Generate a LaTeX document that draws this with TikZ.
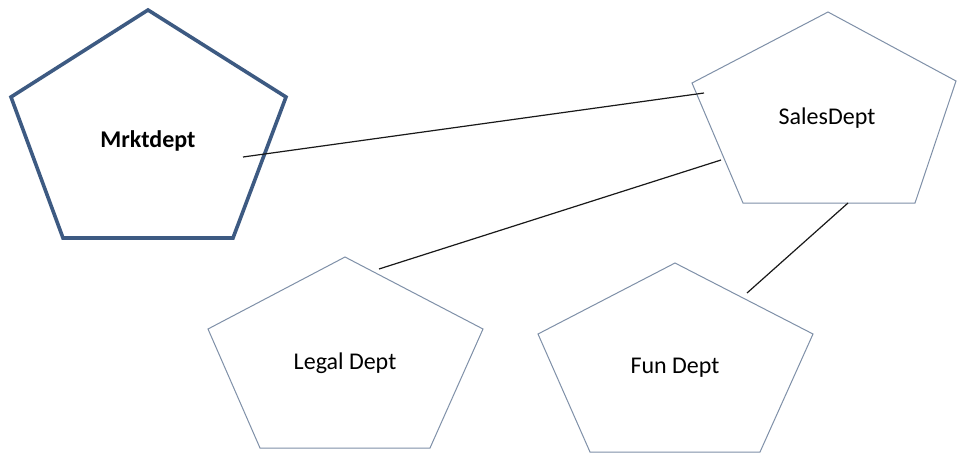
\documentclass[tikz,border=0pt]{standalone}
\usepackage{fontspec}
\setmainfont{Carlito}
\definecolor{thickblue}{HTML}{3D5A82}
\definecolor{thinblue}{HTML}{7F90A8}
\tikzset{
  bigpent/.style={draw=thickblue, line width=3.6pt, line join=miter, fill=white},
  pent/.style={draw=thinblue, line width=1pt, line join=miter, fill=white},
  lbl/.style={font=\fontsize{24}{28}\selectfont, text=black, inner sep=0pt},
  conn/.style={draw=black!90, line width=1.2pt}
}
\begin{document}
\begin{tikzpicture}[x=1pt,y=-1pt]
\useasboundingbox (0,0) rectangle (957,455);
\fill[white] (0,0) rectangle (957,455);
% Mrktdept
\draw[bigpent] (148,10) -- (286,97) -- (233,238) -- (63,238) -- (11,97) -- cycle;
\node[lbl, font=\fontsize{24}{28}\selectfont\bfseries] (mrkt) at (148,141) {Mrktdept};
% SalesDept
\draw[pent] (828,12) -- (956,81) -- (915,203) -- (743,203) -- (692,83) -- cycle;
\node[lbl] (sales) at (827,118) {SalesDept};
% Legal Dept
\draw[pent] (345,257) -- (483,329) -- (430,448) -- (260,448) -- (208,329) -- cycle;
\node[lbl] (legal) at (345,363) {Legal Dept};
% Fun Dept
\draw[pent] (675,263) -- (813,334) -- (760,452) -- (590,452) -- (538,334) -- cycle;
\node[lbl] (fun) at (675,368) {Fun Dept};
% connector ends
\coordinate (m1) at (243,157);
\coordinate (s1) at (704,93);
\coordinate (s2) at (721,160);
\coordinate (l1) at (379,269);
\coordinate (s3) at (848,203);
\coordinate (f1) at (747,293);
\draw[conn] (m1) -- (s1);
\draw[conn] (s2) -- (l1);
\draw[conn] (s3) -- (f1);
\end{tikzpicture}
\end{document}
